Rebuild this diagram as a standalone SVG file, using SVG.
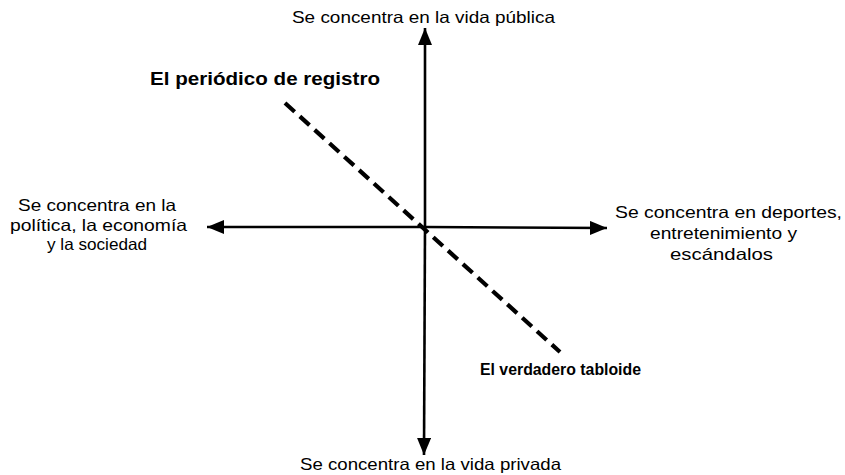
<svg xmlns="http://www.w3.org/2000/svg" width="845" height="475" viewBox="0 0 845 475">
  <style>
    .lbl { font-family: "Liberation Sans", Arial, sans-serif; font-size: 16.5px; fill: #000; }
    .bold { font-family: "Liberation Sans", Arial, sans-serif; font-size: 18px; font-weight: bold; fill: #000; }
    .bold-sm { font-family: "Liberation Sans", Arial, sans-serif; font-size: 16px; font-weight: bold; fill: #000; }
    .axis { stroke: #000; stroke-width: 2.6; fill: none; }
    .diag { stroke: #000; stroke-width: 4.2; fill: none; stroke-dasharray: 13 7; }
  </style>
  <defs>
    <marker id="arrow" markerUnits="userSpaceOnUse" markerWidth="17" markerHeight="14" refX="17" refY="7" orient="auto">
      <path d="M0,0 L17,7 L0,14 z" fill="#000"/>
    </marker>
  </defs>
  <rect width="845" height="475" fill="#fff"/>

  <g id="connectors">
    <line class="axis" x1="425" y1="227" x2="425" y2="28" marker-end="url(#arrow)"/>
    <line class="axis" x1="425" y1="227" x2="424" y2="455" marker-end="url(#arrow)"/>
    <line class="axis" x1="425" y1="227" x2="207" y2="227" marker-end="url(#arrow)"/>
    <line class="axis" x1="425" y1="227" x2="607" y2="228" marker-end="url(#arrow)"/>
    <line class="diag" x1="285" y1="103" x2="560" y2="352"/>
  </g>

  <g id="top-label">
    <text class="lbl" x="292" y="23" textLength="263" lengthAdjust="spacingAndGlyphs">Se concentra en la vida pública</text>
  </g>
  <g id="bottom-label">
    <text class="lbl" x="300" y="470" textLength="261" lengthAdjust="spacingAndGlyphs">Se concentra en la vida privada</text>
  </g>
  <g id="left-label">
    <text class="lbl" x="18" y="211" textLength="158" lengthAdjust="spacingAndGlyphs">Se concentra en la</text>
    <text class="lbl" x="10" y="231" textLength="177" lengthAdjust="spacingAndGlyphs">política, la economía</text>
    <text class="lbl" x="47" y="250" textLength="100" lengthAdjust="spacingAndGlyphs">y la sociedad</text>
  </g>
  <g id="right-label">
    <text class="lbl" x="615" y="218" textLength="227" lengthAdjust="spacingAndGlyphs">Se concentra en deportes,</text>
    <text class="lbl" x="650" y="239" textLength="147" lengthAdjust="spacingAndGlyphs">entretenimiento y</text>
    <text class="lbl" x="670" y="260" textLength="103" lengthAdjust="spacingAndGlyphs">escándalos</text>
  </g>
  <g id="periodico-label">
    <text class="bold" x="150" y="85" textLength="230" lengthAdjust="spacingAndGlyphs">El periódico de registro</text>
  </g>
  <g id="tabloide-label">
    <text class="bold-sm" x="480" y="375" textLength="161" lengthAdjust="spacingAndGlyphs">El verdadero tabloide</text>
  </g>
</svg>
